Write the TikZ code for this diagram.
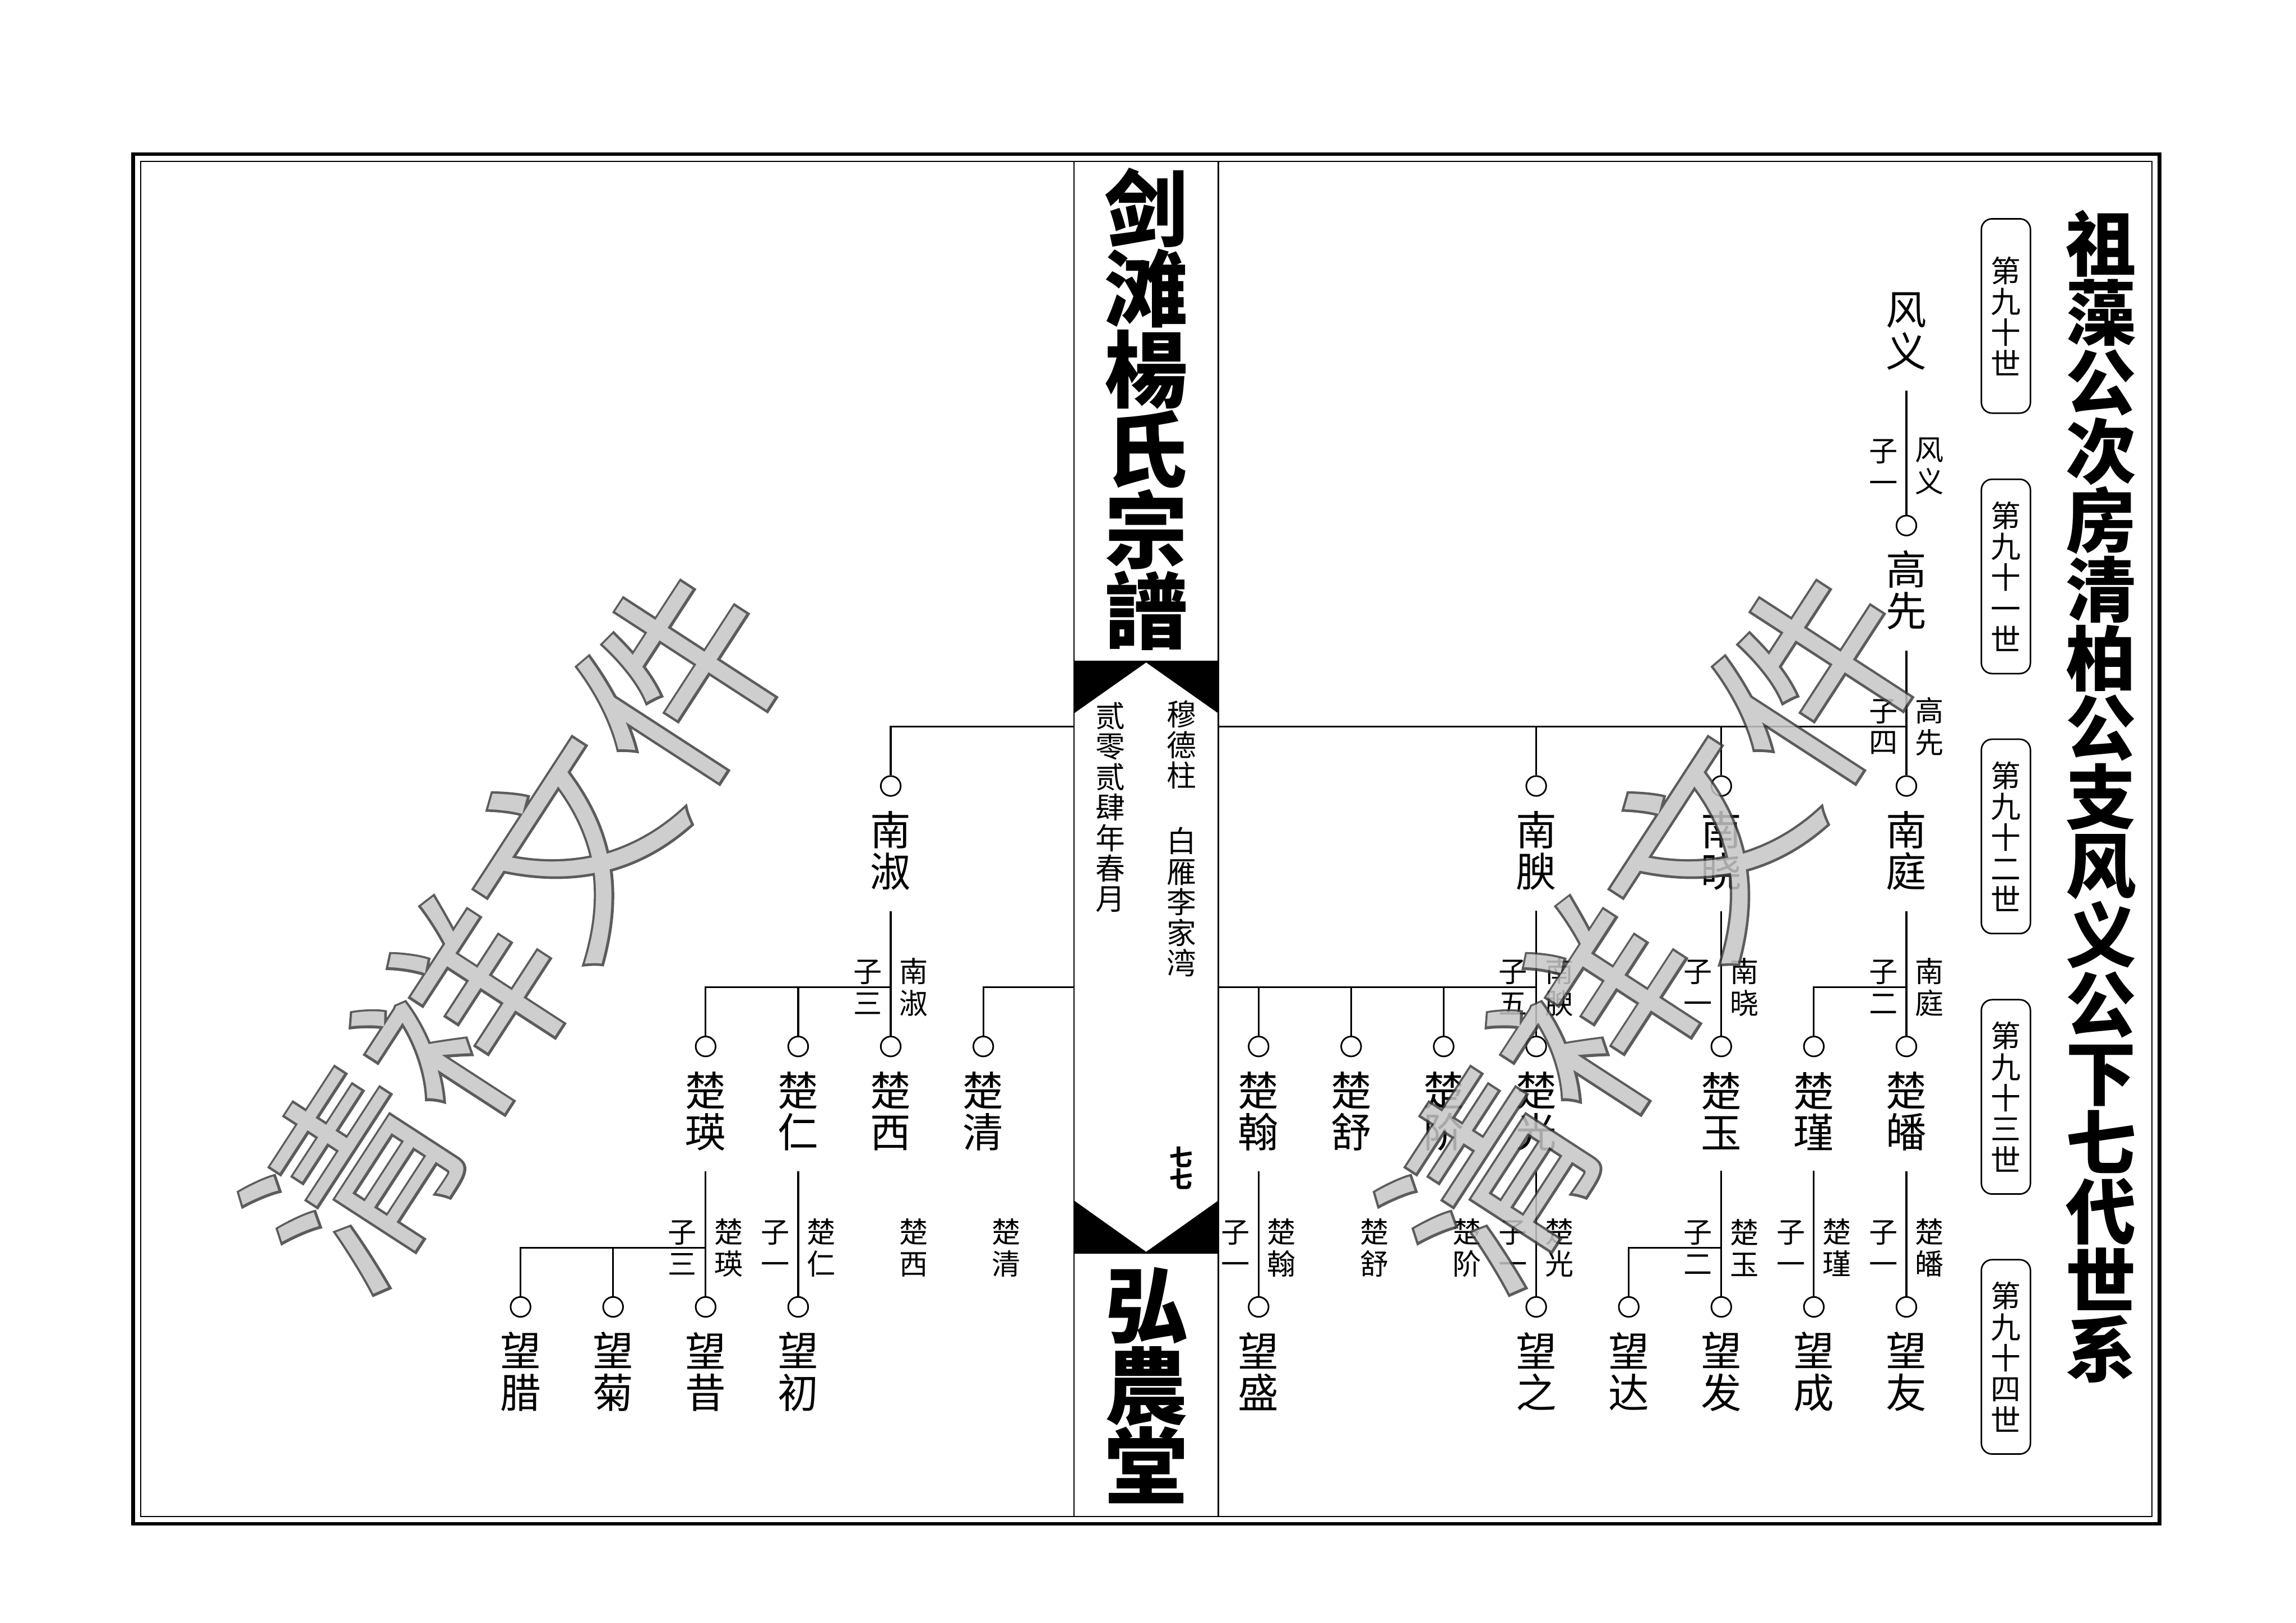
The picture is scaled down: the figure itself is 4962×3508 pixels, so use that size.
\documentclass[tikz,border=0pt]{standalone}
\usepackage{fontspec}
\newfontfamily\cjk{Noto Sans CJK SC}
\newfontfamily\cjkwm{Noto Sans CJK SC}[FakeBold=2.5]
\definecolor{wmgray}{HTML}{C6C6C6}
\definecolor{wmline}{HTML}{404040}
\tikzset{
  tl/.style={line width=0.38mm},
  pname/.style={inner sep=0, align=center, font={\cjk\fontsize{8.8mm}{9mm}\selectfont}},
  lbl/.style={inner sep=0, align=center, font={\cjk\fontsize{6.2mm}{6.9mm}\selectfont}},
  circ/.style={circle, draw, minimum size=4.3mm, inner sep=0, line width=0.35mm},
  genbox/.style={draw, rounded corners=2.3mm, minimum width=10.6mm, minimum height=42mm, line width=0.33mm, inner sep=0, align=center, font={\cjk\fontsize{6.5mm}{6.7mm}\selectfont}},
  bigtitle/.style={inner sep=0, align=center, font={\cjk\bfseries\fontsize{18mm}{17.4mm}\selectfont}},
  sidetitle/.style={inner sep=0, align=center, font={\cjk\bfseries\fontsize{15.2mm}{14.94mm}\selectfont}},
  bandtext/.style={inner sep=0, align=center, font={\cjk\fontsize{6.4mm}{6.6mm}\selectfont}},
  wmdark/.style={inner sep=0, rotate=57, text=wmline, font={\cjkwm\fontsize{43mm}{43mm}\selectfont}},
  wmfill/.style={inner sep=0, rotate=57, text=wmgray, font={\cjk\fontsize{43mm}{43mm}\selectfont}},
  down/.style={tl, shorten <=4.4mm}
}
\begin{document}
\begin{tikzpicture}[x=0.1mm,y=-0.1mm]
\useasboundingbox (0,0) rectangle (4962,3508);
% frame
\draw[line width=0.8mm] (288,333) rectangle (4667,3294);
\draw[line width=0.25mm] (304,349) rectangle (4651,3278);
% central band
\coordinate (bandL) at (2321,349);
\coordinate (bandR) at (2633,349);
\coordinate (bandLb) at (2321,3278);
\coordinate (bandRb) at (2633,3278);
\draw[line width=0.27mm] (bandL) -- (bandLb);
\draw[line width=0.27mm] (bandR) -- (bandRb);
\fill (2321,1428) -- (2633,1428) -- (2633,1542) -- (2477,1432) -- (2321,1542) -- cycle;
\fill (2321,2595) -- (2477,2706) -- (2633,2595) -- (2633,2710) -- (2321,2710) -- cycle;
\node[bigtitle] (t1) at (2477,884) {剑\\滩\\楊\\氏\\宗\\譜};
\node[bigtitle] (t2) at (2477,2995) {弘\\農\\堂};
\node[bandtext] (b1) at (2553,1610) {穆\\德\\柱};
\node[bandtext] (b2) at (2553,1950) {白\\雁\\李\\家\\湾};
\node[bandtext] (b3) at (2400,1745) {贰\\零\\贰\\肆\\年\\春\\月};
\node[inner sep=0, align=center, font={\cjk\bfseries\fontsize{5mm}{4.8mm}\selectfont}] (b4) at (2553,2525) {七\\七};
% side title and generation boxes
\node[sidetitle] (st) at (4541,1722) {祖\\藻\\公\\次\\房\\清\\柏\\公\\支\\风\\义\\公\\下\\七\\代\\世\\系};
\node[genbox] (gb0) at (4335,683) {第\\九\\十\\世};
\node[genbox] (gb1) at (4335,1246) {第\\九\\十\\一\\世};
\node[genbox] (gb2) at (4335,1808) {第\\九\\十\\二\\世};
\node[genbox] (gb3) at (4335,2371) {第\\九\\十\\三\\世};
\node[genbox] (gb4) at (4335,2933) {第\\九\\十\\四\\世};
% ---- generation 90 / 91
\node[pname] (g0) at (4120,716) {风\\义};
\node[circ] (c1) at (4120,1136) {};
\node[pname] (g1) at (4120,1276) {高\\先};
\draw[down] (g0) -- (c1);
\node[lbl] at (4070,1008) {子\\一};
\node[lbl] at (4170,1008) {风\\义};
% ---- generation 92
\node[circ] (c2a) at (4120,1699) {};
\node[circ] (c2b) at (3720,1699) {};
\node[circ] (c2c) at (3320,1699) {};
\node[circ] (c2d) at (1925,1699) {};
\node[pname] (g2a) at (4120,1839) {南\\庭};
\node[pname] (g2b) at (3720,1839) {南\\晓};
\node[pname] (g2c) at (3320,1839) {南\\腴};
\node[pname] (g2d) at (1925,1839) {南\\淑};
\coordinate (j2) at (4120,1571);
\draw[down] (g1) -- (c2a);
\draw[tl] (bandR |- j2) -- (j2);
\draw[tl] (c2b |- j2) -- (c2b);
\draw[tl] (c2c |- j2) -- (c2c);
\draw[tl] (bandL |- j2) -| (c2d);
\node[lbl] at (4070,1571) {子\\四};
\node[lbl] at (4170,1571) {高\\先};
% ---- generation 93
\node[circ] (c3a) at (4120,2262) {};
\node[circ] (c3b) at (3920,2262) {};
\node[circ] (c3c) at (3720,2262) {};
\node[circ] (c3d) at (3320,2262) {};
\node[circ] (c3e) at (3120,2262) {};
\node[circ] (c3f) at (2920,2262) {};
\node[circ] (c3g) at (2720,2262) {};
\node[circ] (c3h) at (2125,2262) {};
\node[circ] (c3i) at (1925,2262) {};
\node[circ] (c3j) at (1725,2262) {};
\node[circ] (c3k) at (1525,2262) {};
\node[pname] (g3a) at (4120,2402) {楚\\皤};
\node[pname] (g3b) at (3920,2402) {楚\\瑾};
\node[pname] (g3c) at (3720,2402) {楚\\玉};
\node[pname] (g3d) at (3320,2402) {楚\\光};
\node[pname] (g3e) at (3120,2402) {楚\\阶};
\node[pname] (g3f) at (2920,2402) {楚\\舒};
\node[pname] (g3g) at (2720,2402) {楚\\翰};
\node[pname] (g3h) at (2125,2402) {楚\\清};
\node[pname] (g3i) at (1925,2402) {楚\\西};
\node[pname] (g3j) at (1725,2402) {楚\\仁};
\node[pname] (g3k) at (1525,2402) {楚\\瑛};
% from 南庭
\coordinate (j3a) at (4120,2134);
\draw[down] (g2a) -- (c3a);
\draw[tl] (j3a) -| (c3b);
\node[lbl] at (4070,2134) {子\\二};
\node[lbl] at (4170,2134) {南\\庭};
% from 南晓
\draw[down] (g2b) -- (c3c);
\node[lbl] at (3670,2134) {子\\一};
\node[lbl] at (3770,2134) {南\\晓};
% from 南腴
\coordinate (j3c) at (3320,2134);
\draw[down] (g2c) -- (c3d);
\draw[tl] (j3c) -- (bandR |- j3c);
\draw[tl] (c3e |- j3c) -- (c3e);
\draw[tl] (c3f |- j3c) -- (c3f);
\draw[tl] (c3g |- j3c) -- (c3g);
\draw[tl] (bandL |- j3c) -| (c3h);
\node[lbl] at (3270,2134) {子\\五};
\node[lbl] at (3370,2134) {南\\腴};
% from 南淑
\coordinate (j3d) at (1925,2134);
\draw[down] (g2d) -- (c3i);
\draw[tl] (j3d) -| (c3k);
\draw[tl] (c3j |- j3d) -- (c3j);
\node[lbl] at (1875,2134) {子\\三};
\node[lbl] at (1975,2134) {南\\淑};
% ---- generation 94
\node[circ] (c4a) at (4120,2825) {};
\node[circ] (c4b) at (3920,2825) {};
\node[circ] (c4c) at (3720,2825) {};
\node[circ] (c4d) at (3520,2825) {};
\node[circ] (c4e) at (3320,2825) {};
\node[circ] (c4f) at (2720,2825) {};
\node[circ] (c4g) at (1725,2825) {};
\node[circ] (c4h) at (1525,2825) {};
\node[circ] (c4i) at (1325,2825) {};
\node[circ] (c4j) at (1125,2825) {};
\node[pname] (g4a) at (4120,2965) {望\\友};
\node[pname] (g4b) at (3920,2965) {望\\成};
\node[pname] (g4c) at (3720,2965) {望\\发};
\node[pname] (g4d) at (3520,2965) {望\\达};
\node[pname] (g4e) at (3320,2965) {望\\之};
\node[pname] (g4f) at (2720,2965) {望\\盛};
\node[pname] (g4g) at (1725,2965) {望\\初};
\node[pname] (g4h) at (1525,2965) {望\\昔};
\node[pname] (g4i) at (1325,2965) {望\\菊};
\node[pname] (g4j) at (1125,2965) {望\\腊};
\draw[down] (g3a) -- (c4a);
\node[lbl] at (4070,2697) {子\\一};
\node[lbl] at (4170,2697) {楚\\皤};
\draw[down] (g3b) -- (c4b);
\node[lbl] at (3870,2697) {子\\一};
\node[lbl] at (3970,2697) {楚\\瑾};
\coordinate (j4c) at (3720,2697);
\draw[down] (g3c) -- (c4c);
\draw[tl] (j4c) -| (c4d);
\node[lbl] at (3670,2697) {子\\二};
\node[lbl] at (3770,2697) {楚\\玉};
\draw[down] (g3d) -- (c4e);
\node[lbl] at (3270,2697) {子\\一};
\node[lbl] at (3370,2697) {楚\\光};
\node[lbl] at (3170,2697) {楚\\阶};
\node[lbl] at (2970,2697) {楚\\舒};
\draw[down] (g3g) -- (c4f);
\node[lbl] at (2670,2697) {子\\一};
\node[lbl] at (2770,2697) {楚\\翰};
\node[lbl] at (2175,2697) {楚\\清};
\node[lbl] at (1975,2697) {楚\\西};
\draw[down] (g3j) -- (c4g);
\node[lbl] at (1675,2697) {子\\一};
\node[lbl] at (1775,2697) {楚\\仁};
\coordinate (j4k) at (1525,2697);
\draw[down] (g3k) -- (c4h);
\draw[tl] (j4k) -| (c4j);
\draw[tl] (c4i |- j4k) -- (c4i);
\node[lbl] at (1475,2697) {子\\三};
\node[lbl] at (1575,2697) {楚\\瑛};
% ---- watermarks
\begin{scope}[transparency group, opacity=0.85]
\node[wmdark] (wm1d) at (1115,2005) {清祥文件};
\node[wmfill] (wm1) at (1115,2005) {清祥文件};
\node[wmdark] (wm2d) at (3570,2005) {清祥文件};
\node[wmfill] (wm2) at (3570,2005) {清祥文件};
\end{scope}
\end{tikzpicture}
\end{document}
